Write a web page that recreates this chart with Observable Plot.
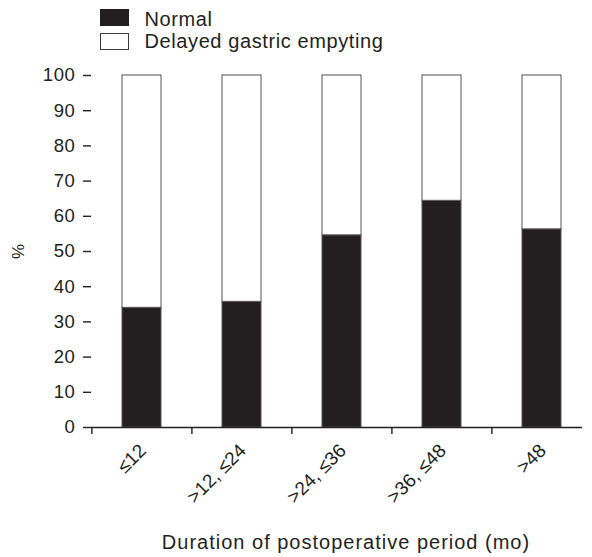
<!DOCTYPE html>
<html>
<head>
<meta charset="utf-8">
<script src="https://cdn.jsdelivr.net/npm/d3@7"></script>
<script src="https://cdn.jsdelivr.net/npm/@observablehq/plot@0.6"></script>
<style>
  body { margin: 0; background: #fff; font-family: "Liberation Sans", Arial, sans-serif; }
  #wrap { position: relative; width: 592px; height: 557px; }
  .sw { position: absolute; left: 100px; width: 29px; height: 17px; box-sizing: border-box; }
  .lt { position: absolute; left: 144.5px; font-size: 20px; letter-spacing: 0.6px; color: #231f20; white-space: nowrap; line-height: normal; }
  g[aria-label="y-axis tick label"] text { font-size: 18.5px !important; letter-spacing: 0.6px; }
  g[aria-label="x-axis tick label"] text { font-size: 19px !important; }
</style>
</head>
<body>
<div id="wrap">
  <div class="sw" style="top:9px;background:#231f20"></div>
  <div class="lt" style="top:8px">Normal</div>
  <div class="sw" style="top:33px;background:#fff;border:1.3px solid #3a3a3a"></div>
  <div class="lt" style="top:29.5px">Delayed gastric empyting</div>
</div>
<script>
const categories = ["≤12", ">12, ≤24", ">24, ≤36", ">36, ≤48", ">48"];
const normal = [34.0, 35.7, 54.6, 64.4, 56.3];
const delayed = [66.0, 64.3, 45.4, 35.6, 43.7];
const yTicks = [0, 10, 20, 30, 40, 50, 60, 70, 80, 90, 100];
const seriesNames = ["Normal", "Delayed gastric empyting"];

const data = [];
categories.forEach((c, i) => {
  data.push({cat: c, series: seriesNames[0], value: normal[i]});
  data.push({cat: c, series: seriesNames[1], value: delayed[i]});
});

const ink = "#231f20";
const chart = Plot.plot({
  width: 592,
  height: 557,
  marginLeft: 91,
  marginRight: 10,
  marginTop: 75,
  marginBottom: 130,
  style: {fontFamily: "Liberation Sans, Arial, sans-serif", fontSize: "19px", color: ink, background: "transparent"},
  x: {domain: categories, range: [91, 592], paddingInner: 0.61, paddingOuter: 0.305, axis: null},
  y: {domain: [0, 100], axis: null},
  color: {domain: seriesNames, range: [ink, "#ffffff"]},
  marks: [
    Plot.barY(data, Plot.stackY({x: "cat", y: "value", fill: "series", order: seriesNames, stroke: "#555", strokeWidth: 1})),
    Plot.ruleY([0], {stroke: ink, strokeWidth: 1.4}),
    Plot.ruleX([0], {x: () => 91, y1: 0, y2: 100, stroke: ink, strokeWidth: 1.4}),
    Plot.axisY({ticks: yTicks, tickSize: 8, tickPadding: 8, label: null, stroke: ink, strokeWidth: 1.4, strokeOpacity: 1, fill: ink}),
    Plot.axisX({ticks: categories, tickSize: 7, tickFormat: () => "", dx: -50.1, label: null, stroke: ink, strokeWidth: 1.4, strokeOpacity: 1}),
    Plot.axisX({ticks: categories, tickSize: 0, tickRotate: -45, tickPadding: 20, dx: 1, label: null, fill: ink}),
    Plot.text(["%"], {frameAnchor: "left", textAnchor: "middle", dx: -73, dy: 0, rotate: -90, fontSize: 17, fill: ink}),
    Plot.text(["Duration of postoperative period (mo)"], {frameAnchor: "bottom", dy: 121, dx: 9, fontSize: 20, fill: ink})
  ]
});
document.getElementById("wrap").prepend(chart);
chart.style.position = "absolute";
chart.style.left = "0";
chart.style.top = "0";
chart.querySelectorAll('g[aria-label="text"] text').forEach(t => { if (t.textContent.startsWith("Duration")) t.style.letterSpacing = "1px"; });
</script>
</body>
</html>
